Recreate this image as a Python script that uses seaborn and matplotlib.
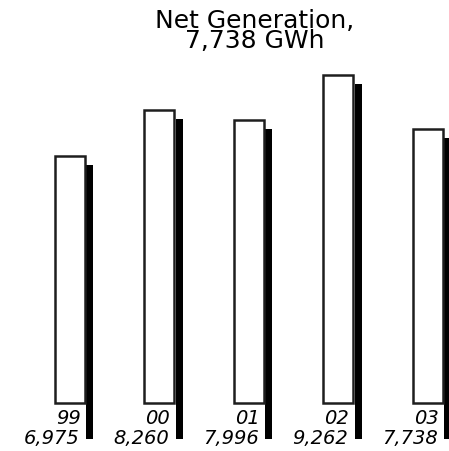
import numpy as np
import pandas as pd
import matplotlib
matplotlib.use("Agg")
import matplotlib.pyplot as plt
import seaborn as sns

# -----------------------------
# DATA
# -----------------------------
years = ["99", "00", "01", "02", "03"]
values = [6975, 8260, 7996, 9262, 7738]
value_labels = ["6,975", "8,260", "7,996", "9,262", "7,738"]
title = "Net Generation,\n7,738 GWh"

df = pd.DataFrame({"Year": years, "GWh": values})

# -----------------------------
# PLOT
# -----------------------------
sns.set_style("white")
plt.rcParams["font.family"] = ["DejaVu Sans"]

fig = plt.figure(figsize=(4.49, 4.52), dpi=100)
ax = fig.add_axes([0, 0, 1, 1])

# main outlined bars
sns.barplot(x="Year", y="GWh", data=df, order=years, color="white",
            edgecolor="#1e1e1e", linewidth=1.8, width=0.335, ax=ax,
            zorder=2)

# black "shadow" bars to the right, dropped a little lower
pos = np.arange(len(years))
shadow_bottom = -1017
ax.bar(pos + 0.22, df["GWh"] - 254 - shadow_bottom, bottom=shadow_bottom,
       width=0.078, color="black", edgecolor="none", zorder=1)

# year and value labels under each bar
for i, (yr, lab) in enumerate(zip(years, value_labels)):
    ax.text(i + 0.12, -565, yr, ha="right", va="baseline", fontsize=14,
            style="italic", color="black", zorder=5)
    ax.text(i + 0.11, -1130, lab, ha="right", va="baseline", fontsize=14,
            style="italic", color="black", zorder=5)

fig.text(0.567, 0.980, title, ha="center", va="top", fontsize=18,
         linespacing=0.78, color="black")

ax.set_xlim(-0.782, 4.235)
ax.set_ylim(-1355, 11408)
ax.axis("off")

plt.savefig("out.png", dpi=100)
